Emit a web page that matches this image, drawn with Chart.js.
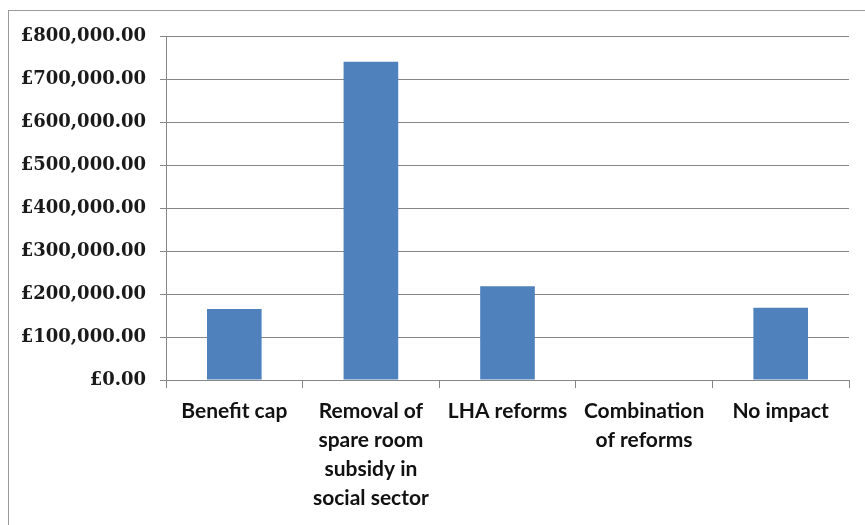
<!DOCTYPE html>
<html>
<head>
<meta charset="utf-8">
<script src="https://cdn.jsdelivr.net/npm/chart.js@4"></script>
<style>
  html, body { margin:0; padding:0; background:#fff; }
  #wrap { position:relative; width:865px; height:525px; overflow:hidden; background:#fff; }
  #frame { position:absolute; left:8px; top:10px; width:900px; height:600px; border:1px solid #9a9a9a; box-sizing:border-box; }
  #arcClip { position:absolute; left:0; top:0; width:60px; height:14px; overflow:hidden; }
  #arc { position:absolute; left:-6px; top:4px; width:260px; height:260px; border-radius:50%; border:4px solid #1c3270; box-sizing:border-box; }
  #c { position:absolute; left:0; top:0; }
</style>
</head>
<body>
<div id="wrap">
  <div id="frame"></div>
  <div id="arcClip"><div id="arc"></div></div>
  <canvas id="c" width="865" height="525"></canvas>
</div>
<script>
const categories = [
  "Benefit cap",
  ["Removal of", "spare room", "subsidy in", "social sector"],
  "LHA reforms",
  ["Combination", "of reforms"],
  "No impact"
];
const values = [165000, 740000, 218000, 0, 168000];
const yTickValues = [0, 100000, 200000, 300000, 400000, 500000, 600000, 700000, 800000];
const yTickLabels = ["£0.00", "£100,000.00", "£200,000.00", "£300,000.00", "£400,000.00", "£500,000.00", "£600,000.00", "£700,000.00", "£800,000.00"];

new Chart(document.getElementById('c'), {
  type: 'bar',
  data: {
    labels: categories,
    datasets: [{
      data: values,
      backgroundColor: '#4F81BD',
      borderWidth: 0,
      categoryPercentage: 1.0,
      barPercentage: 0.4
    }]
  },
  options: {
    responsive: false,
    animation: false,
    devicePixelRatio: 1,
    layout: { padding: { top: 36, right: 16, left: 0, bottom: 0 } },
    plugins: { legend: { display: false }, tooltip: { enabled: false } },
    scales: {
      y: {
        min: 0, max: 800000,
        afterFit: s => { s.width = 166; },
        afterBuildTicks: s => { s.ticks = yTickValues.map(v => ({ value: v })); },
        ticks: {
          callback: (v) => yTickLabels[yTickValues.indexOf(v)],
          color: '#1a1a1a',
          font: { family: "'DejaVu Serif', serif", size: 18, weight: 'bold' },
          padding: 14
        },
        grid: { color: '#868686', lineWidth: 1, tickLength: 6, drawTicks: true },
        border: { display: true, color: '#868686', width: 1 }
      },
      x: {
        afterFit: s => { s.height = 145; },
        ticks: {
          color: '#111',
          font: { family: "Lato, sans-serif", size: 21, weight: 'bold', lineHeight: 1.38 },
          padding: 9,
          maxRotation: 0,
          autoSkip: false
        },
        grid: { offset: true, drawOnChartArea: false, drawTicks: true, tickLength: 8, color: '#868686' },
        border: { display: true, color: '#868686', width: 1 }
      }
    }
  }
});
</script>
</body>
</html>
